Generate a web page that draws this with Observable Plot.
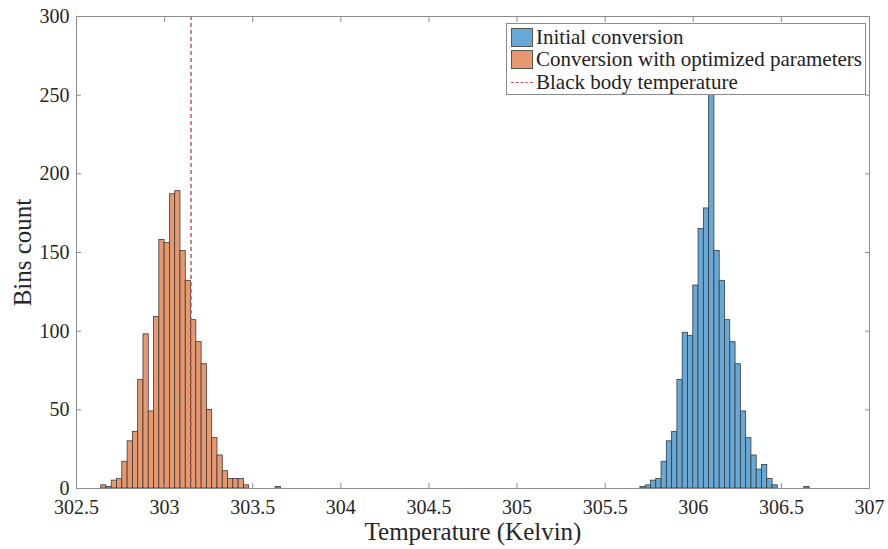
<!DOCTYPE html>
<html><head><meta charset="utf-8">
<script src="https://cdn.jsdelivr.net/npm/d3@7"></script>
<script src="https://cdn.jsdelivr.net/npm/@observablehq/plot@0.6"></script>
<style>
body{margin:0;background:#fff;}
#wrap{position:relative;width:888px;height:549px;font-family:"Liberation Serif",serif;}
#legend{position:absolute;left:506px;top:23px;width:360px;height:72px;border:1px solid #8c8c8c;background:#fff;box-sizing:border-box;}
.row{position:absolute;left:4px;height:22px;display:flex;align-items:center;font-size:21px;color:#222;white-space:nowrap;}
.sw{width:22px;height:19px;box-sizing:border-box;border:1px solid #555;margin-right:3px;}
.dash{width:22px;height:0;border-top:1.5px dashed;margin-right:3px;}
</style></head>
<body><div id="wrap"></div>
<script>
const tempTicks = [302.5, 303, 303.5, 304, 304.5, 305, 305.5, 306, 306.5, 307];
const countTicks = [0, 50, 100, 150, 200, 250, 300];
const binWidth = 0.03;
const initialStart = 305.70;
const initialCounts = [1, 2, 5, 6, 17, 30, 36, 69, 99, 97, 129, 165, 178, 262, 151, 132, 107, 93, 79, 49, 32, 21, 12, 15, 6, 2];
const initialOutlierStart = 306.63;
const initialOutlierCount = 1;
const optimizedStart = 302.64;
const optimizedCounts = [2, 1, 5, 6, 17, 30, 36, 69, 98, 49, 109, 158, 156, 187, 189, 151, 132, 107, 93, 79, 50, 32, 21, 11, 6, 6, 6, 2];
const optimizedOutlierStart = 303.63;
const optimizedOutlierCount = 1;
const blackBodyTemp = 303.15;
const seriesNames = ["Initial conversion", "Conversion with optimized parameters", "Black body temperature"];
const colors = ["#66A9D6", "#E8986F", "#C05A63"];

function bins(start, counts, outStart, outCount) {
  const b = counts.map((c, i) => ({x1: start + i * binWidth, x2: start + (i + 1) * binWidth, count: c}));
  b.push({x1: outStart, x2: outStart + binWidth, count: outCount});
  return b;
}
const initialBins = bins(initialStart, initialCounts, initialOutlierStart, initialOutlierCount);
const optimizedBins = bins(optimizedStart, optimizedCounts, optimizedOutlierStart, optimizedOutlierCount);

const axisGray = "#8c8c8c";
const plot = Plot.plot({
  width: 888, height: 549,
  marginLeft: 76, marginRight: 19, marginTop: 16, marginBottom: 61,
  style: {fontFamily: "'Liberation Serif', serif", fontSize: "20px", color: "#262626", background: "#fff"},
  x: {domain: [302.5, 307]},
  y: {domain: [0, 300]},
  marks: [
    Plot.rectY(initialBins, {x1: "x1", x2: "x2", y: "count", fill: colors[0], stroke: "#3a3a3a", strokeWidth: 0.8}),
    Plot.rectY(optimizedBins, {x1: "x1", x2: "x2", y: "count", fill: colors[1], stroke: "#3a3a3a", strokeWidth: 0.8}),
    Plot.ruleX([blackBodyTemp], {stroke: colors[2], strokeDasharray: "4,3", strokeWidth: 1.5}),
    Plot.frame({stroke: axisGray}),
    Plot.axisX({anchor: "bottom", ticks: tempTicks, tickSize: 5, dy: -5, tickFormat: () => "", label: null, stroke: axisGray}),
    Plot.axisX({anchor: "top", ticks: tempTicks, tickSize: 5, dy: 5, tickFormat: () => "", label: null, stroke: axisGray}),
    Plot.axisY({anchor: "left", ticks: countTicks, tickSize: 5, dx: 5, tickFormat: () => "", label: null, stroke: axisGray}),
    Plot.axisY({anchor: "right", ticks: countTicks, tickSize: 5, dx: -5, tickFormat: () => "", label: null, stroke: axisGray}),
    Plot.axisX({anchor: "bottom", ticks: tempTicks, tickSize: 0, tickPadding: 11, tickFormat: d => String(d), label: null}),
    Plot.axisY({anchor: "left", ticks: countTicks, tickSize: 0, tickPadding: 7, tickFormat: d => String(d), label: null}),
    Plot.text(["Temperature (Kelvin)"], {frameAnchor: "bottom", lineAnchor: "middle", textAnchor: "middle", dy: 43, fontSize: 25, text: d => d, fill: "#262626"}),
    Plot.text(["Bins count"], {frameAnchor: "left", lineAnchor: "middle", textAnchor: "middle", dx: -54, rotate: -90, fontSize: 25, text: d => d, fill: "#262626"})
  ]
});
const wrap = document.getElementById("wrap");
wrap.appendChild(plot);

const legend = document.createElement("div");
legend.id = "legend";
seriesNames.forEach((name, i) => {
  const row = document.createElement("div");
  row.className = "row";
  row.style.top = (2 + i * 22.5) + "px";
  const sw = document.createElement("div");
  if (i < 2) { sw.className = "sw"; sw.style.background = colors[i]; }
  else { sw.className = "dash"; sw.style.borderTopColor = colors[i]; }
  row.appendChild(sw);
  const t = document.createElement("span");
  t.textContent = name;
  row.appendChild(t);
  legend.appendChild(row);
});
wrap.appendChild(legend);
</script>
</body></html>
